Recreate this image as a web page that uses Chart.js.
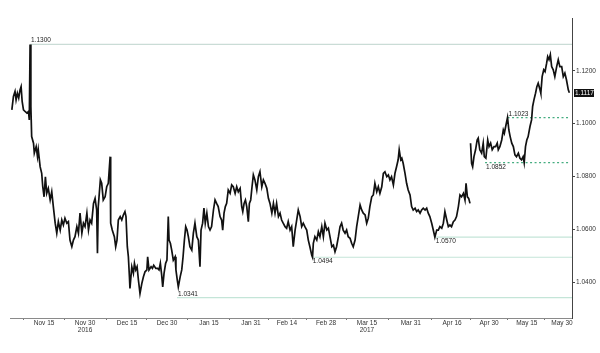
<!DOCTYPE html>
<html>
<head>
<meta charset="utf-8">
<script src="https://cdn.jsdelivr.net/npm/chart.js@4.4.0/dist/chart.umd.min.js"></script>
<style>
  html, body { margin: 0; padding: 0; background: #fff; }
  #wrap { width: 600px; height: 353px; }
</style>
</head>
<body>
<div id="wrap"><canvas id="chart"></canvas></div>
<script>
'use strict';

// time index along the axis (roughly days from Nov 1 2016, weekends squeezed)
var days = [
  1.8,2.4,3.0,3.4,3.9,4.4,4.9,5.3,5.7,6.2,6.8,7.5,8.1,8.4,8.7,9.0,9.3,10.0,10.3,11.0,
  11.5,11.8,12.5,13.1,13.5,14.0,14.5,15.0,15.6,16.3,16.9,17.5,18.2,18.8,19.4,20.1,20.7,21.3,21.9,22.6,
  23.2,23.8,24.5,25.1,25.7,26.4,27.0,27.6,28.3,28.9,29.5,30.2,30.8,31.4,32.0,32.7,33.3,33.9,34.2,34.5,
  34.8,35.3,35.8,36.4,37.1,37.7,38.3,39.0,39.1,39.3,39.8,40.6,41.1,41.6,42.1,42.8,43.4,44.0,44.6,45.0,
  45.5,45.9,46.3,46.5,47.2,47.8,48.2,48.7,49.2,49.7,50.3,51.0,51.6,52.2,52.9,53.2,53.7,54.5,55.0,55.5,
  56.3,57.0,57.5,58.0,58.5,58.9,59.4,60.0,60.5,61.0,61.3,61.8,62.3,62.9,63.6,63.9,64.4,64.8,65.5,66.1,
  66.6,67.1,67.6,68.1,68.6,69.2,69.9,70.5,71.1,71.8,72.4,73.0,73.4,74.0,74.5,75.0,75.6,76.2,76.8,77.4,
  78.1,78.7,79.3,79.9,80.6,81.2,81.6,82.1,82.6,83.1,83.7,84.4,85.0,85.6,86.3,86.9,87.5,88.2,88.8,89.2,
  89.7,90.2,90.7,91.3,91.7,92.2,92.7,93.2,93.8,94.5,95.1,95.7,96.4,97.0,97.6,98.3,98.9,99.5,100.2,100.8,
  101.4,102.0,102.7,103.3,103.9,104.5,105.2,105.8,106.4,107.1,107.7,108.3,109.0,109.6,110.2,110.9,111.5,112.1,112.7,113.4,
  114.0,114.6,115.3,115.6,115.9,116.5,117.2,117.8,118.4,119.1,119.7,120.3,121.0,121.6,122.2,122.9,123.5,124.1,124.7,125.4,
  126.0,126.6,127.2,127.9,128.5,129.1,129.8,130.4,131.0,131.7,132.3,132.9,133.6,134.2,134.8,135.5,136.1,136.7,137.3,138.0,
  138.6,139.2,139.9,140.5,141.1,141.8,142.4,143.0,143.7,144.3,144.9,145.5,146.2,146.8,147.4,148.0,148.4,149.0,149.4,149.9,
  150.6,151.2,151.8,152.5,153.1,153.7,154.4,155.0,155.6,156.3,156.9,157.5,158.2,158.8,159.4,160.0,160.7,161.3,161.9,162.6,
  163.2,163.8,164.5,165.1,165.7,166.4,167.0,167.6,168.2,168.9,169.5,170.1,170.8,171.4,172.0,172.7,173.3,173.7,174.2,174.7,
  175.2,175.3,175.4,175.8,176.2,176.7,177.3,177.9,178.3,178.9,179.6,180.2,180.6,181.2,181.9,182.4,183.0,183.6,184.3,184.9,
  185.5,185.9,186.5,187.2,187.8,188.2,188.7,189.4,189.9,190.4,191.0,191.6,192.2,192.8,193.5,194.1,194.7,195.3,195.7,196.2,
  196.7,197.2,197.9,198.5,198.9,199.4,200.0,200.5,201.0,201.7,202.0,202.5,203.1,203.6,204.2,204.6,205.1,205.6,206.1,206.7,
  207.3,208.0,208.6,209.2,209.9,210.5,211.1,211.7,212.4,212.8
];

var prices = [
  1.1052,1.1103,1.1122,1.1090,1.1115,1.1097,1.1128,1.1140,1.1084,1.1052,1.1046,1.1040,1.1046,1.1014,1.1300,1.1065,1.0951,1.0926,1.0888,1.0913,
  1.0875,1.0901,1.0837,1.0812,1.0761,1.0723,1.0799,1.0736,1.0755,1.0711,1.0742,1.0686,1.0623,1.0585,1.0629,1.0597,1.0635,1.0616,1.0642,1.0623,
  1.0629,1.0559,1.0534,1.0559,1.0572,1.0610,1.0585,1.0661,1.0585,1.0623,1.0610,1.0661,1.0597,1.0635,1.0623,1.0698,1.0717,1.0673,1.0509,1.0686,
  1.0723,1.0787,1.0774,1.0711,1.0723,1.0761,1.0774,1.0875,1.0799,1.0623,1.0597,1.0572,1.0534,1.0559,1.0635,1.0648,1.0635,1.0654,1.0667,1.0648,
  1.0534,1.0496,1.0420,1.0376,1.0458,1.0433,1.0471,1.0446,1.0458,1.0408,1.0357,1.0395,1.0420,1.0439,1.0446,1.0496,1.0446,1.0458,1.0452,1.0464,
  1.0452,1.0452,1.0446,1.0471,1.0427,1.0382,1.0433,1.0471,1.0483,1.0648,1.0559,1.0547,1.0521,1.0483,1.0496,1.0446,1.0408,1.0382,1.0420,1.0446,
  1.0496,1.0559,1.0610,1.0597,1.0572,1.0534,1.0521,1.0585,1.0623,1.0572,1.0559,1.0458,1.0597,1.0623,1.0680,1.0623,1.0661,1.0610,1.0597,1.0610,
  1.0673,1.0711,1.0698,1.0686,1.0648,1.0635,1.0597,1.0661,1.0686,1.0698,1.0749,1.0736,1.0768,1.0761,1.0736,1.0761,1.0742,1.0755,1.0686,1.0667,
  1.0698,1.0711,1.0686,1.0629,1.0698,1.0711,1.0761,1.0806,1.0787,1.0749,1.0799,1.0818,1.0761,1.0787,1.0774,1.0755,1.0717,1.0698,1.0661,1.0698,
  1.0661,1.0698,1.0648,1.0661,1.0635,1.0623,1.0610,1.0604,1.0629,1.0597,1.0610,1.0534,1.0597,1.0635,1.0673,1.0648,1.0610,1.0623,1.0610,1.0597,
  1.0559,1.0534,1.0502,1.0494,1.0547,1.0572,1.0559,1.0591,1.0572,1.0610,1.0572,1.0623,1.0597,1.0604,1.0572,1.0534,1.0540,1.0515,1.0534,1.0572,
  1.0610,1.0623,1.0597,1.0585,1.0597,1.0572,1.0566,1.0547,1.0534,1.0559,1.0610,1.0648,1.0692,1.0673,1.0661,1.0654,1.0623,1.0642,1.0686,1.0723,
  1.0730,1.0774,1.0742,1.0761,1.0736,1.0761,1.0812,1.0818,1.0799,1.0806,1.0787,1.0799,1.0768,1.0812,1.0837,1.0863,1.0901,1.0863,1.0869,1.0850,
  1.0812,1.0774,1.0749,1.0730,1.0686,1.0673,1.0680,1.0667,1.0673,1.0661,1.0673,1.0680,1.0673,1.0680,1.0661,1.0648,1.0623,1.0597,1.0570,1.0597,
  1.0597,1.0610,1.0604,1.0623,1.0667,1.0635,1.0610,1.0616,1.0610,1.0629,1.0635,1.0648,1.0686,1.0730,1.0723,1.0736,1.0711,1.0774,1.0723,1.0717,
  1.0698,null,1.0926,1.0850,1.0837,1.0875,1.0901,1.0938,1.0945,1.0901,1.0888,1.0926,1.0875,1.0869,1.0938,1.0913,1.0926,1.0901,1.0913,1.0913,
  1.0926,1.0901,1.0913,1.0938,1.0976,1.0964,1.0989,1.1023,1.0976,1.0951,1.0926,1.0913,1.0882,1.0875,1.0888,1.0869,1.0863,1.0875,1.0852,1.0913,
  1.0938,1.0951,1.0989,1.1014,1.1065,1.1090,1.1115,1.1140,1.1153,1.1128,1.1115,1.1178,1.1204,1.1197,1.1229,1.1254,1.1242,1.1261,1.1216,1.1204,
  1.1178,1.1216,1.1242,1.1216,1.1216,1.1178,1.1191,1.1166,1.1128,1.1117
];

var tickDays = [14.0, 29.5, 45.4, 60.5, 76.4, 92.3, 105.9, 120.7, 136.2, 152.8, 168.4, 182.4, 196.7, 210.0];
var tickLabels = ['Nov 15', ['Nov 30', '2016'], 'Dec 15', 'Dec 30', 'Jan 15', 'Jan 31', 'Feb 14', 'Feb 28',
  ['Mar 15', '2017'], 'Mar 31', 'Apr 16', 'Apr 30', 'May 15', 'May 30'];
var yTicks = [1.04, 1.06, 1.08, 1.10, 1.12];

// support / resistance levels
var levels = [1.1300, 1.1023, 1.0852, 1.0570, 1.0494, 1.0341];
var levelStart = [8.7, 189.4, 180.9, 161.9, 115.3, 64.3];
var levelDashed = [false, true, true, false, false, false];
var levelSide = ['above', 'above', 'below', 'below', 'below', 'above'];
var lastPrice = 1.1117;

var X_MIN = 1.1, X_MAX = 213.8;
var FONT = '"Liberation Sans", Arial, sans-serif';

var points = days.map(function(d, i) { return {x: d, y: prices[i]}; });

// minor tick marks sit half way between the labelled dates
var midTicks = [tickDays[0] - (tickDays[1] - tickDays[0]) / 2];
for (var i = 1; i < tickDays.length; i++) {
  midTicks.push((tickDays[i - 1] + tickDays[i]) / 2);
}
var allTicks = tickDays.concat(midTicks).sort(function(a, b) { return a - b; });

var datasets = [{
  data: points,
  borderColor: '#111',
  borderWidth: 1.7,
  pointRadius: 0,
  tension: 0,
  spanGaps: false
}];
levels.forEach(function(v, i) {
  datasets.push({
    data: [{x: levelStart[i], y: v}, {x: levelDashed[i] ? 212.6 : X_MAX, y: v}],
    borderColor: levelDashed[i] ? '#45ad80' : (i === 0 ? '#cadcd6' : '#c4e5d8'),
    borderWidth: 1.2,
    borderDash: levelDashed[i] ? [2, 2.5] : [],
    pointRadius: 0
  });
});

var labelPlugin = {
  id: 'levelLabels',
  afterDatasetsDraw: function(chart) {
    var ctx = chart.ctx, xs = chart.scales.x, ys = chart.scales.y;
    ctx.save();
    ctx.font = '6.5px ' + FONT;
    ctx.fillStyle = '#222';
    ctx.textAlign = 'left';
    levels.forEach(function(v, i) {
      var px = xs.getPixelForValue(levelStart[i]) + 1;
      var py = ys.getPixelForValue(v);
      if (levelSide[i] === 'above') {
        ctx.textBaseline = 'bottom';
        ctx.fillText(v.toFixed(4), px, py - 0.5);
      } else {
        ctx.textBaseline = 'top';
        ctx.fillText(v.toFixed(4), px, py + 1);
      }
    });
    ctx.restore();
  },
  afterDraw: function(chart) {
    var ctx = chart.ctx, ys = chart.scales.y;
    var py = Math.round(ys.getPixelForValue(lastPrice));
    ctx.save();
    ctx.fillStyle = '#111';
    ctx.fillRect(574, py - 4, 20, 8);
    ctx.fillStyle = '#fff';
    ctx.font = '6.5px ' + FONT;
    ctx.textAlign = 'left';
    ctx.textBaseline = 'middle';
    ctx.fillText(lastPrice.toFixed(4), 575, py + 0.5);
    ctx.restore();
  }
};

new Chart(document.getElementById('chart').getContext('2d'), {
  type: 'line',
  data: {datasets: datasets},
  options: {
    responsive: true,
    maintainAspectRatio: false,
    animation: false,
    devicePixelRatio: 1,
    layout: {padding: {left: 10, top: 18, right: 0, bottom: 0}},
    plugins: {legend: {display: false}, tooltip: {enabled: false}},
    scales: {
      x: {
        type: 'linear',
        min: X_MIN,
        max: X_MAX,
        afterFit: function(s) { s.height = 35; },
        afterBuildTicks: function(s) {
          s.ticks = allTicks.map(function(v) { return {value: v}; });
        },
        grid: {
          drawOnChartArea: false,
          tickLength: 2,
          tickColor: function(c) {
            return c.tick && tickDays.indexOf(c.tick.value) >= 0 ? 'rgba(0,0,0,0)' : '#777';
          }
        },
        border: {color: '#8a8a8a'},
        ticks: {
          autoSkip: false,
          maxRotation: 0,
          padding: 0,
          color: '#333',
          font: {family: FONT, size: 6.5, lineHeight: 1},
          callback: function(v) {
            var k = tickDays.indexOf(v);
            return k >= 0 ? tickLabels[k] : '';
          }
        }
      },
      y: {
        position: 'right',
        min: 1.0264,
        max: 1.14,
        afterFit: function(s) { s.width = 28; },
        afterBuildTicks: function(s) {
          s.ticks = yTicks.map(function(v) { return {value: v}; });
        },
        grid: {drawOnChartArea: false, tickLength: 3, tickColor: '#444'},
        border: {color: '#444'},
        ticks: {
          padding: 1,
          color: '#333',
          font: {family: FONT, size: 6.5},
          callback: function(v) { return v.toFixed(4); }
        }
      }
    }
  },
  plugins: [labelPlugin]
});
</script>
</body>
</html>
